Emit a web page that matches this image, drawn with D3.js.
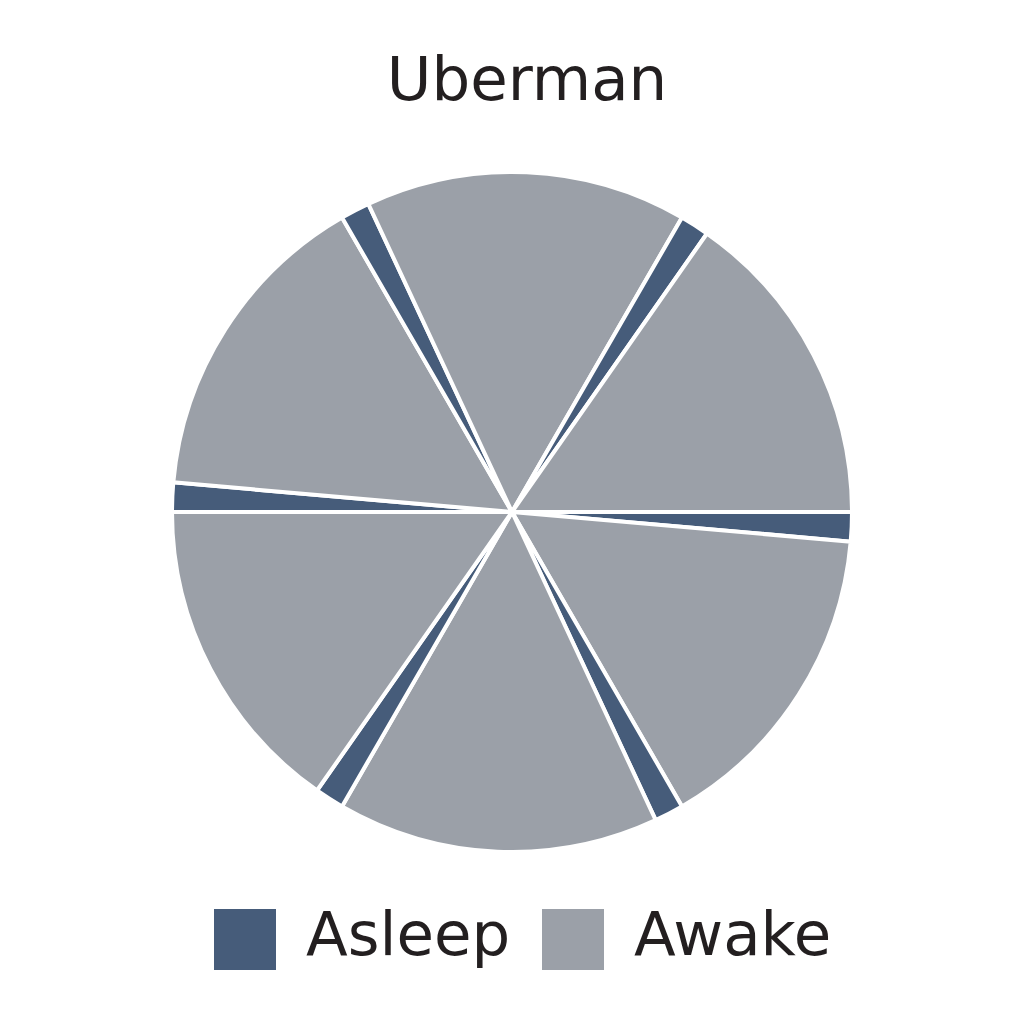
<!DOCTYPE html>
<html><head><meta charset="utf-8">
<script src="https://cdn.jsdelivr.net/npm/d3@7"></script>
<style>body{margin:0;background:#fff}</style>
</head><body>
<svg id="c" width="1024" height="1024"></svg>
<script>
const title = "Uberman";
const categories = ["Asleep","Awake"];
const colors = ["#465c7a","#9ba0a8"];
// minutes per segment across 24h, starting at the 3 o'clock position, clockwise
const segLabels = ["Asleep","Awake","Asleep","Awake","Asleep","Awake","Asleep","Awake","Asleep","Awake","Asleep","Awake"];
const segValues = [20,220,20,220,20,220,20,220,20,220,20,220];

const svg = d3.select("#c");
const color = d3.scaleOrdinal().domain(categories).range(colors);
const cx = 512, cy = 512, r = 340;

svg.append("text").attr("x",527).attr("y",100).attr("text-anchor","middle")
  .attr("font-family","DejaVu Sans").attr("font-size",61).attr("fill","#231f20").text(title);

const data = segValues.map((v,i)=>({label:segLabels[i], value:v}));
const pie = d3.pie().value(d=>d.value).sort(null).startAngle(Math.PI/2).endAngle(Math.PI/2+2*Math.PI);
const arc = d3.arc().innerRadius(0).outerRadius(r);
svg.append("g").attr("transform",`translate(${cx},${cy})`)
  .selectAll("path").data(pie(data)).join("path")
  .attr("d",arc).attr("fill",d=>color(d.data.label))
  .attr("stroke","#fff").attr("stroke-width",4).attr("stroke-linejoin","round");

const lx = [214,542];
const lg = svg.append("g");
categories.forEach((c,i)=>{
  lg.append("rect").attr("x",lx[i]).attr("y",909).attr("width",62).attr("height",61).attr("fill",color(c));
  lg.append("text").attr("x",lx[i]+92).attr("y",955).attr("font-family","DejaVu Sans")
    .attr("font-size",61).attr("fill","#231f20").text(c);
});
</script>
</body></html>
